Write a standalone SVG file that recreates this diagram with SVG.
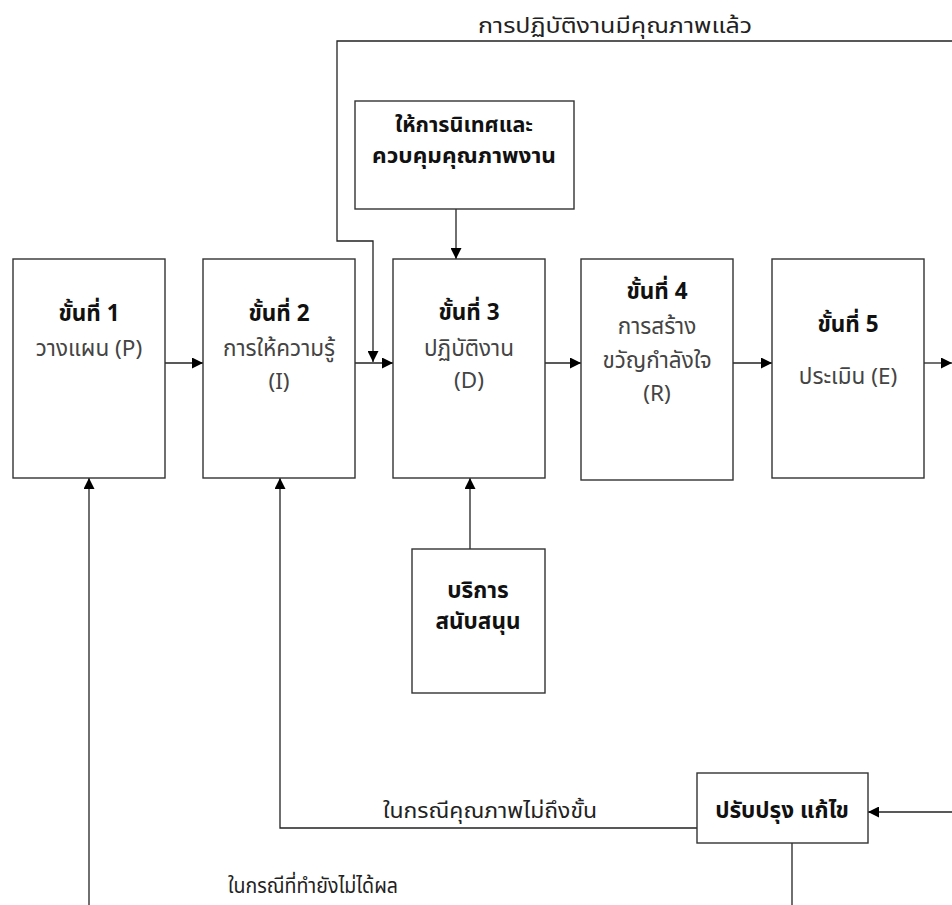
<svg xmlns="http://www.w3.org/2000/svg" width="952" height="905" viewBox="0 0 952 905">
<style>
.box{fill:#fff;stroke:#333;stroke-width:1.4}
.ln{fill:none;stroke:#222;stroke-width:1.3}
.h{font-family:Tahoma,"Noto Sans Thai","Noto Sans","DejaVu Sans",sans-serif;font-size:22.5px;font-weight:bold;fill:#111;text-anchor:middle}
.t{font-family:Tahoma,"Noto Sans Thai","Noto Sans","DejaVu Sans",sans-serif;font-size:22.5px;fill:#444;text-anchor:middle}
.lb{font-family:Tahoma,"Noto Sans Thai","Noto Sans","DejaVu Sans",sans-serif;font-size:21px;fill:#222}
</style>
<defs>
<marker id="ah" viewBox="0 0 10 10" refX="10" refY="5" markerWidth="11" markerHeight="11" markerUnits="userSpaceOnUse" orient="auto">
<path d="M0,0 L10,5 L0,10 Z" fill="#000"/>
</marker>
</defs>
<rect width="952" height="905" fill="#fff"/>
<g id="connectors">
<line class="ln" x1="165" y1="363" x2="203" y2="363" marker-end="url(#ah)"/>
<line class="ln" x1="355" y1="363" x2="393" y2="363" marker-end="url(#ah)"/>
<line class="ln" x1="545" y1="363" x2="581" y2="363" marker-end="url(#ah)"/>
<line class="ln" x1="733" y1="363" x2="772" y2="363" marker-end="url(#ah)"/>
<line class="ln" x1="924" y1="363" x2="952" y2="363" marker-end="url(#ah)"/>
<polyline class="ln" points="952,41 337,41 337,241 373,241 373,362" marker-end="url(#ah)"/>
<line class="ln" x1="456" y1="209" x2="456" y2="259" marker-end="url(#ah)"/>
<line class="ln" x1="470" y1="549" x2="470" y2="478" marker-end="url(#ah)"/>
<line class="ln" x1="952" y1="812" x2="868" y2="812" marker-end="url(#ah)"/>
<polyline class="ln" points="697,828 280,828 280,478" marker-end="url(#ah)"/>
<line class="ln" x1="792" y1="843" x2="792" y2="905"/>
<line class="ln" x1="89" y1="905" x2="89" y2="478" marker-end="url(#ah)"/>
<text class="lb" x="478" y="33" textLength="274" lengthAdjust="spacingAndGlyphs">การปฏิบัติงานมีคุณภาพแล้ว</text>
<text class="lb" x="383" y="818" textLength="214" lengthAdjust="spacingAndGlyphs">ในกรณีคุณภาพไม่ถึงขั้น</text>
<text class="lb" x="228" y="893" textLength="170" lengthAdjust="spacingAndGlyphs">ในกรณีที่ทำยังไม่ได้ผล</text>
</g>
<g id="step1">
<rect class="box" x="13" y="259" width="152" height="219"/>
<text class="h" x="89" y="321">ขั้นที่ 1</text>
<text class="t" x="89" y="356">วางแผน (P)</text>
</g>
<g id="step2">
<rect class="box" x="203" y="259" width="152" height="219"/>
<text class="h" x="279" y="321">ขั้นที่ 2</text>
<text class="t" x="279" y="356">การให้ความรู้</text>
<text class="t" x="279" y="389">(I)</text>
</g>
<g id="step3">
<rect class="box" x="393" y="259" width="152" height="219"/>
<text class="h" x="469" y="320">ขั้นที่ 3</text>
<text class="t" x="469" y="356">ปฏิบัติงาน</text>
<text class="t" x="469" y="388">(D)</text>
</g>
<g id="step4">
<rect class="box" x="581" y="259" width="152" height="221"/>
<text class="h" x="657" y="299">ขั้นที่ 4</text>
<text class="t" x="657" y="334">การสร้าง</text>
<text class="t" x="657" y="368">ขวัญกำลังใจ</text>
<text class="t" x="657" y="401">(R)</text>
</g>
<g id="step5">
<rect class="box" x="772" y="259" width="152" height="219"/>
<text class="h" x="848" y="332">ขั้นที่ 5</text>
<text class="t" x="848" y="384">ประเมิน (E)</text>
</g>
<g id="supervise">
<rect class="box" x="355" y="101" width="219" height="108"/>
<text class="h" x="464" y="132" style="font-size:21.5px">ให้การนิเทศและ</text>
<text class="h" x="464" y="163" style="font-size:21.5px" textLength="184" lengthAdjust="spacingAndGlyphs">ควบคุมคุณภาพงาน</text>
</g>
<g id="support">
<rect class="box" x="412" y="549" width="133" height="144"/>
<text class="h" x="478" y="598">บริการ</text>
<text class="h" x="478" y="629">สนับสนุน</text>
</g>
<g id="improve">
<rect class="box" x="697" y="773" width="171" height="70"/>
<text class="h" x="782" y="818">ปรับปรุง แก้ไข</text>
</g>
</svg>
